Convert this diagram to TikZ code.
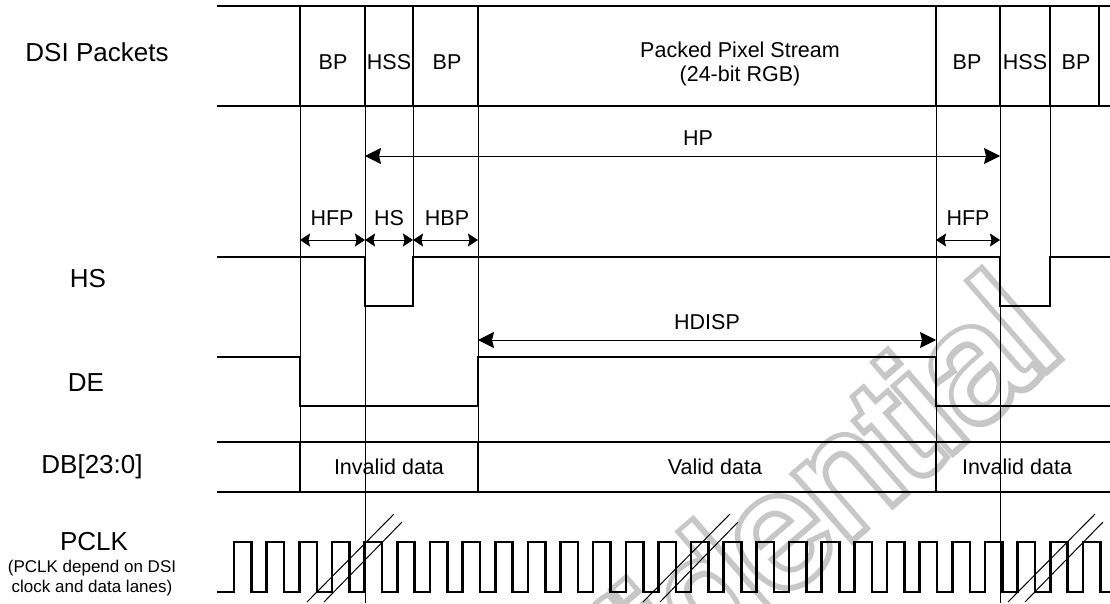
\documentclass[tikz,border=0pt]{standalone}
\usepackage{fontspec}
\setmainfont{Liberation Sans}
\newfontfamily\wmstroke[FakeBold=7]{Liberation Sans}
\newfontfamily\wmfill{Liberation Sans}
\usetikzlibrary{arrows.meta}

\begin{document}
\begin{tikzpicture}[x=1pt, y=-1pt,
  sig/.style={line width=2.6pt},
  guide/.style={line width=1pt},
  hatch/.style={line width=1pt},
  dimbig/.style={{Stealth[length=16pt,width=16pt,inset=2pt]}-{Stealth[length=16pt,width=16pt,inset=2pt]}, line width=1pt},
  dimsmall/.style={{Stealth[length=10pt,width=13pt,inset=1.5pt]}-{Stealth[length=10pt,width=13pt,inset=1.5pt]}, line width=1pt},
  rowname/.style={font=\fontsize{26}{30}\selectfont, inner sep=0pt},
  note/.style={font=\fontsize{17}{20}\selectfont, align=center, inner sep=0pt},
  cell/.style={font=\fontsize{21.5}{24}\selectfont, inner sep=0pt},
  wmark/.style={rotate=41, anchor=base east, inner sep=0pt}
]
\useasboundingbox (0,0) rectangle (1110,603);

% watermark, behind everything
\node[wmark, text=black!22] (wm) at (1066,352) {\wmstroke\fontsize{160}{160}\selectfont Confidential};
\node[wmark, text=white] (wmin) at (1066,352) {\wmfill\fontsize{160}{160}\selectfont Confidential};

% row names
\node[rowname] (dsi) at (97,52) {DSI Packets};
\node[rowname] (hs) at (88,279) {HS};
\node[rowname] (de) at (86,383) {DE};
\node[rowname] (db) at (92,467) {DB[23:0]};
\node[rowname] (pclk) at (94,542) {PCLK};
\node[note] (pnote) at (92,578) {(PCLK depend on DSI\\clock and data lanes)};

% thin guides
\draw[guide] (300,106) -- (300,492);
\draw[guide] (365,106) -- (365,603);
\draw[guide] (413,106) -- (413,257);
\draw[guide] (478,106) -- (478,442);
\draw[guide] (936,106) -- (936,442);
\draw[guide] (1000,106) -- (1000,603);
\draw[guide] (1050,106) -- (1050,257);

% DSI packets
\draw[sig] (217,6) -- (1110,6);
\draw[sig] (217,106) -- (1110,106);
\foreach \x in {300,365,413,478,936,1000,1050,1099}
  \draw[sig] (\x,6) -- (\x,106);
\node[cell] (bp1) at (333,62) {BP};
\node[cell] (hss1) at (389,62) {HSS};
\node[cell] (bp2) at (447,62) {BP};
\node[cell, align=center] (pps) at (740,64) {Packed Pixel Stream\\(24-bit RGB)};
\node[cell] (bp3) at (967,62) {BP};
\node[cell] (hss2) at (1025,62) {HSS};
\node[cell] (bp4) at (1076,62) {BP};

% timing marks
\coordinate (hp-l) at (365,156);
\coordinate (hp-r) at (1000,156);
\draw[dimbig] (hp-l) -- (hp-r);
\node[cell] (hp) at (698,138) {HP};

\coordinate (m1) at (300,240);
\coordinate (m2) at (365,240);
\coordinate (m3) at (413,240);
\coordinate (m4) at (478,240);
\coordinate (m5) at (936,240);
\coordinate (m6) at (1000,240);
\draw[dimsmall] (m1) -- (m2);
\draw[dimsmall] (m2) -- (m3);
\draw[dimsmall] (m3) -- (m4);
\draw[dimsmall] (m5) -- (m6);
\node[cell] (hfp1) at (332,218) {HFP};
\node[cell] (hsw) at (389,218) {HS};
\node[cell] (hbp) at (447,218) {HBP};
\node[cell] (hfp2) at (968,218) {HFP};

\coordinate (hd-l) at (478,340);
\coordinate (hd-r) at (936,340);
\draw[dimbig] (hd-l) -- (hd-r);
\node[cell] (hdisp) at (707,322) {HDISP};

% HS and DE
\draw[sig] (217,257) -- (365,257) -- (365,306) -- (413,306) -- (413,257)
  -- (1000,257) -- (1000,306) -- (1050,306) -- (1050,257) -- (1110,257);
\draw[sig] (217,357) -- (300,357) -- (300,406) -- (478,406) -- (478,357)
  -- (936,357) -- (936,406) -- (1110,406);

% DB[23:0]
\draw[sig] (217,442) -- (1110,442);
\draw[sig] (217,492) -- (1110,492);
\foreach \x in {300,478,936}
  \draw[sig] (\x,442) -- (\x,492);
\node[cell] (inv1) at (389,467) {Invalid data};
\node[cell] (val) at (715,467) {Valid data};
\node[cell] (inv2) at (1017,467) {Invalid data};

% PCLK
\draw[sig] (217,592) foreach \k in {0,...,26} {
  -- ({234+32.65*\k},592) -- ({234+32.65*\k},542)
  -- ({251.5+32.65*\k},542) -- ({251.5+32.65*\k},592) } -- (1110,592);
\foreach \x in {307,643,1008} {
  \draw[hatch] (\x,602) -- ++(87,-88);
  \draw[hatch] ({\x+17},602) -- ++(78,-80);
}
\end{tikzpicture}
\end{document}
